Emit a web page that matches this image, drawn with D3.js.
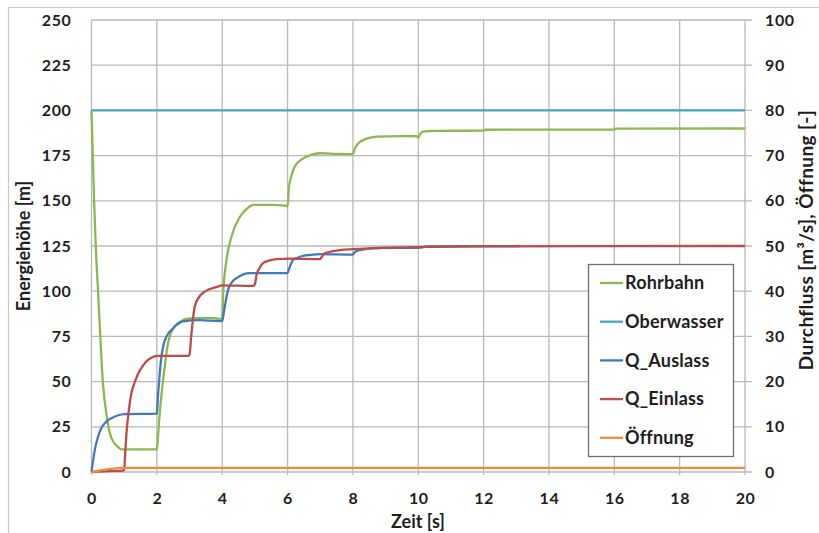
<!DOCTYPE html>
<html>
<head>
<meta charset="utf-8">
<script src="https://cdn.jsdelivr.net/npm/d3@7"></script>
<style>
  html, body { margin: 0; padding: 0; background: #fff; }
  svg text { font-family: Lato, "Open Sans", sans-serif; font-weight: 700; fill: #1e1e1e; }
</style>
</head>
<body>
<svg id="chart" width="819" height="533"></svg>
<script>
// Time axis [s] and tick labels
const timeTicks = [0, 2, 4, 6, 8, 10, 12, 14, 16, 18, 20];
const leftTicks = [0, 25, 50, 75, 100, 125, 150, 175, 200, 225, 250];
const rightTicks = [0, 10, 20, 30, 40, 50, 60, 70, 80, 90, 100];

// Rohrbahn – energy head [m] (left axis)
const rohrbahnT = [0, 0.04, 0.08, 0.13, 0.2, 0.27, 0.35, 0.45, 0.56, 0.7, 0.8, 0.92, 1.0,
  2.0, 2.02, 2.08, 2.16, 2.24, 2.31, 2.39, 2.5, 2.7, 3.0, 3.5, 3.98,
  4.0, 4.03, 4.13, 4.28, 4.54, 4.75, 4.95, 5.5, 5.98,
  6.0, 6.04, 6.12, 6.22, 6.4, 6.58, 6.8, 7.0, 7.5, 8.0,
  8.05, 8.11, 8.2, 8.32, 8.5, 8.73, 9.5, 9.95,
  10.0, 10.06, 10.15, 10.5, 12.0, 12.05, 16.0, 16.05, 20];
const rohrbahnV = [200, 175, 150, 125, 100, 75, 49, 33, 21.5, 16, 14, 12.5, 12.5,
  12.5, 16, 30.6, 46, 58, 68, 74.8, 79.5, 83, 85, 85.2, 84.5,
  84, 98.8, 117, 130, 141, 145.5, 147.7, 147.8, 147.2,
  146.8, 157, 164, 168.9, 172.5, 174.4, 175.8, 176.3, 176, 175.8,
  178.5, 180.5, 182.3, 183.6, 184.8, 185.5, 185.8, 185.7,
  185, 187, 188.2, 188.7, 188.8, 189.3, 189.4, 189.9, 190];

// Oberwasser – headwater level [m] (left axis)
const oberwasserT = [0, 20];
const oberwasserV = [200, 200];

// Q_Auslass – outlet discharge [m³/s] (right axis)
const auslassT = [0, 0.1, 0.2, 0.3, 0.45, 0.61, 0.8, 1.02, 1.99,
  2.0, 2.04, 2.09, 2.14, 2.2, 2.29, 2.5, 2.8, 3.31, 3.95,
  4.0, 4.03, 4.1, 4.18, 4.3, 4.44, 4.85, 5.97,
  6.0, 6.05, 6.17, 6.3, 6.48, 6.68, 7.0, 8.0,
  8.05, 8.21, 8.62, 9.0, 10.0, 10.3, 13.1];
const auslassV = [0, 4.9, 7.8, 9.7, 11.1, 11.9, 12.5, 12.8, 12.9,
  13, 17.4, 22, 25.5, 28, 29.9, 31.8, 33.3, 33.6, 33.4,
  33.4, 34.4, 37.5, 40.3, 42, 42.9, 44, 44,
  44, 45, 46.9, 47.4, 47.8, 48, 48.2, 48.1,
  48.6, 49.1, 49.5, 49.6, 49.6, 49.9, 50];

// Q_Einlass – inlet discharge [m³/s] (right axis)
const einlassT = [0, 0.5, 0.96, 1.0, 1.03, 1.07, 1.14, 1.22, 1.32, 1.43, 1.58, 1.73, 2.04, 2.96,
  3.0, 3.06, 3.16, 3.3, 3.47, 3.87, 3.98, 4.95,
  5.0, 5.05, 5.15, 5.25, 5.45, 5.66, 6.07, 6.99,
  7.05, 7.14, 7.35, 7.6, 8.0, 9.03, 10.46, 12, 20];
const einlassV = [0, 0.2, 0.3, 0.5, 4, 8.6, 13.5, 17.4, 19.8, 21.8, 23.6, 24.8, 25.7, 25.7,
  26, 30.7, 36.6, 38.8, 39.9, 41, 41.3, 41.2,
  41.5, 43.6, 45.2, 46.2, 46.8, 47.1, 47.2, 47.1,
  47.6, 48.4, 48.8, 49.1, 49.3, 49.6, 49.8, 49.9, 50];

// Öffnung – gate opening [-] (right axis)
const oeffnungT = [0, 1, 20];
const oeffnungV = [0, 0.9, 0.9];

const series = [
  { name: "Rohrbahn",   t: rohrbahnT,   v: rohrbahnV,   axis: "left",  color: "#8db84e" },
  { name: "Oberwasser", t: oberwasserT, v: oberwasserV, axis: "left",  color: "#43a6c2" },
  { name: "Q_Auslass",  t: auslassT,    v: auslassV,    axis: "right", color: "#4379ba" },
  { name: "Q_Einlass",  t: einlassT,    v: einlassV,    axis: "right", color: "#bd4b48" },
  { name: "Öffnung",    t: oeffnungT,   v: oeffnungV,   axis: "right", color: "#f08b3c" }
];

const svg = d3.select("#chart");
const W = 819, H = 533;
const plot = { left: 91.5, right: 745, top: 20, bottom: 472 };

const x = d3.scaleLinear().domain([0, 20]).range([plot.left, plot.right]);
const yL = d3.scaleLinear().domain([0, 250]).range([plot.bottom, plot.top]);
const yR = d3.scaleLinear().domain([0, 100]).range([plot.bottom, plot.top]);

// outer frame
svg.append("path")
  .attr("d", `M8.5,${H} V7.5 H${W}`)
  .attr("fill", "none").attr("stroke", "#c9c9c9").attr("stroke-width", 1.2);

// gridlines
const grid = svg.append("g").attr("stroke", "#b8b8b8").attr("stroke-width", 1.3);
grid.selectAll("line.h").data(leftTicks).join("line")
  .attr("x1", plot.left).attr("x2", plot.right + 7)
  .attr("y1", d => yL(d)).attr("y2", d => yL(d));
grid.selectAll("line.v").data(timeTicks).join("line")
  .attr("x1", d => x(d)).attr("x2", d => x(d))
  .attr("y1", plot.top).attr("y2", plot.bottom + 3);

// axes (labels only; ticks drawn as gridlines)
const axisLeft = d3.axisLeft(yL).tickValues(leftTicks).tickSize(0).tickPadding(20);
const gL = svg.append("g").attr("transform", `translate(${plot.left},0)`).call(axisLeft);
const axisRight = d3.axisRight(yR).tickValues(rightTicks).tickSize(0).tickPadding(20);
const gR = svg.append("g").attr("transform", `translate(${plot.right},0)`).call(axisRight);
const axisBottom = d3.axisBottom(x).tickValues(timeTicks).tickSize(0).tickPadding(21);
const gB = svg.append("g").attr("transform", `translate(0,${plot.bottom})`).call(axisBottom);
[gL, gR, gB].forEach(g => {
  g.select(".domain").remove();
  g.selectAll("text").style("font-size", "16px").style("font-family", "Lato, sans-serif")
    .style("font-weight", 700).style("letter-spacing", "0.6px").attr("fill", "#1e1e1e");
});

// series lines
const line = s => d3.line()
  .x((d, i) => x(s.t[i]))
  .y(d => (s.axis === "left" ? yL(d) : yR(d)))
  .curve(d3.curveMonotoneX);

svg.append("g").selectAll("path").data(series).join("path")
  .attr("d", s => line(s)(s.v))
  .attr("fill", "none")
  .attr("stroke", s => s.color)
  .attr("stroke-width", 2.3)
  .attr("stroke-linejoin", "round");

// axis titles
svg.append("text").attr("transform", "translate(30,246) rotate(-90)")
  .attr("text-anchor", "middle").style("font-size", "18px").text("Energiehöhe [m]");
svg.append("text").attr("transform", "translate(813,240) rotate(-90)")
  .attr("text-anchor", "middle").style("font-size", "19px").style("letter-spacing", "0.4px")
  .text("Durchfluss [m³/s], Öffnung [-]");
svg.append("text").attr("x", 418).attr("y", 528)
  .attr("text-anchor", "middle").style("font-size", "18px").text("Zeit [s]");

// legend
const legend = svg.append("g");
legend.append("rect").attr("x", 588.5).attr("y", 264.5).attr("width", 145).attr("height", 192)
  .attr("fill", "#fff").attr("stroke", "#6e6e6e").attr("stroke-width", 1.3);
const rows = legend.selectAll("g.row").data(series).join("g")
  .attr("transform", (d, i) => `translate(600,${283 + i * 38.7})`);
rows.append("line").attr("x1", 0).attr("x2", 23).attr("y1", 0).attr("y2", 0)
  .attr("stroke", d => d.color).attr("stroke-width", 2.3);
rows.append("text").attr("x", 25).attr("y", 0).attr("dy", "0.35em")
  .style("font-size", "18px").style("letter-spacing", "0.2px").text(d => d.name);
</script>
</body>
</html>
